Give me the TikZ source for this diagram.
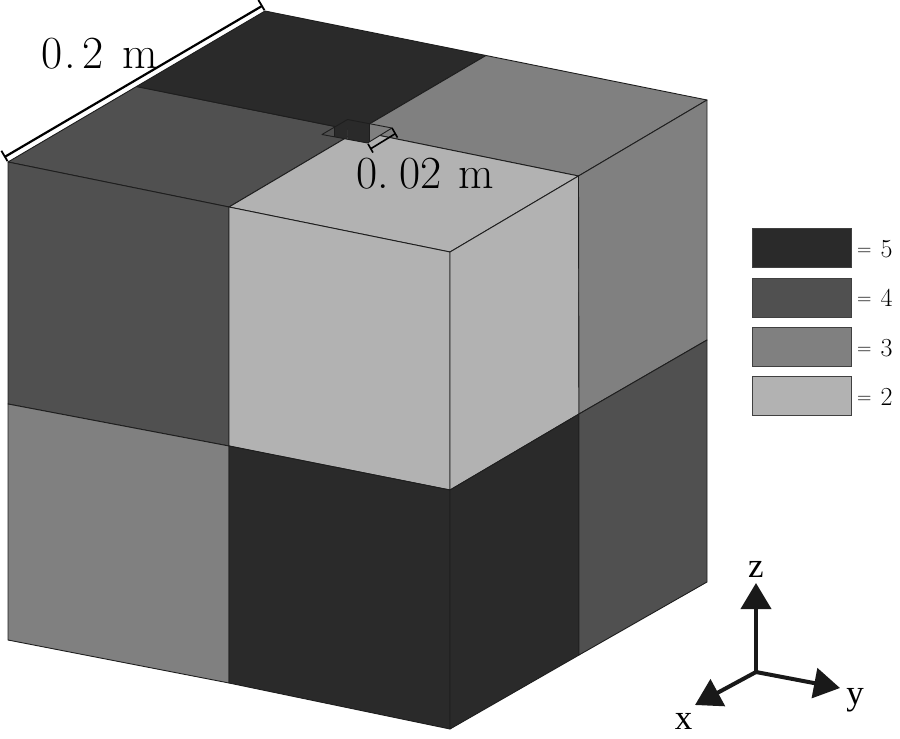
\documentclass[tikz,border=0pt]{standalone}
\usepackage{fontspec}
\newfontfamily\axfont{Liberation Serif}
\usetikzlibrary{arrows.meta,calc}
\definecolor{cfive}{HTML}{2A2A2A}
\definecolor{cfour}{HTML}{505050}
\definecolor{cthree}{HTML}{808080}
\definecolor{ctwo}{HTML}{B2B2B2}
\definecolor{edgecol}{HTML}{1E1E1E}
\newcommand{\legeq}[1]{\raisebox{2pt}{\fontsize{20}{24}\selectfont=}\kern9pt#1}
\begin{document}
\begin{tikzpicture}[x=1pt,y=-1pt,
  face/.style={draw=edgecol, line width=0.9pt, line join=round},
  holeline/.style={draw=edgecol, line width=0.9pt},
  dimline/.style={draw=black, line width=2pt},
  axisarrow/.style={draw=black!90, line width=4pt, -{Triangle[length=26pt,width=30pt]}},
  legbox/.style={draw=edgecol!85, line width=1pt, minimum width=99pt, minimum height=39pt, inner sep=0pt, outer sep=0pt},
  legtext/.style={font=\fontsize{26}{30}\selectfont, inner sep=0pt, anchor=base west},
  dimtext/.style={font=\fontsize{46}{52}\selectfont, inner sep=0pt, anchor=base west},
  axtext/.style={font=\axfont\fontsize{35}{40}\selectfont, inner sep=0pt}
]
\useasboundingbox (0,0) rectangle (900,739);
% ---------- top face ----------
\coordinate (TL) at (8,162);
\coordinate (TB) at (265,11);
\coordinate (TR) at (707,100);
\coordinate (TF) at (450,252);
\coordinate (TLB) at (136.5,86.5);
\coordinate (TBR) at (486,55.5);
\coordinate (TRF) at (578.5,176);
\coordinate (TFL) at (229,207);
\coordinate (C) at (357.5,131);
% ---------- left face ----------
\coordinate (L00) at (8,162);   \coordinate (L10) at (229,207);  \coordinate (L20) at (450,252);
\coordinate (L01) at (8,404);   \coordinate (L11) at (229,446);  \coordinate (L21) at (450,490);
\coordinate (L02) at (8,640);   \coordinate (L12) at (229,683);  \coordinate (L22) at (450,729);
% ---------- right face ----------
\coordinate (R00) at (450,252); \coordinate (R10) at (578.5,176); \coordinate (R20) at (707,100);
\coordinate (R01) at (450,490); \coordinate (R11) at (579,414);   \coordinate (R21) at (707,340);
\coordinate (R02) at (450,729); \coordinate (R12) at (579,655);   \coordinate (R22) at (707,582);

% top quadrants
\draw[face, fill=cfour]  (TL) -- (TLB) -- (C) -- (TFL) -- cycle;
\draw[face, fill=cfive]  (TLB) -- (TB) -- (TBR) -- (C) -- cycle;
\draw[face, fill=cthree] (TBR) -- (TR) -- (TRF) -- (C) -- cycle;
\draw[face, fill=ctwo]   (C) -- (TRF) -- (TF) -- (TFL) -- cycle;
% left face
\draw[face, fill=cfour]  (L00) -- (L10) -- (L11) -- (L01) -- cycle;
\draw[face, fill=ctwo]   (L10) -- (L20) -- (L21) -- (L11) -- cycle;
\draw[face, fill=cthree] (L01) -- (L11) -- (L12) -- (L02) -- cycle;
\draw[face, fill=cfive]  (L11) -- (L21) -- (L22) -- (L12) -- cycle;
% right face
\draw[face, fill=ctwo]   (R00) -- (R10) -- (R11) -- (R01) -- cycle;
\draw[face, fill=cthree] (R10) -- (R20) -- (R21) -- (R11) -- cycle;
\draw[face, fill=cfive]  (R01) -- (R11) -- (R12) -- (R02) -- cycle;
\draw[face, fill=cfour]  (R11) -- (R21) -- (R22) -- (R12) -- cycle;

% ---------- hole ----------
\coordinate (HL) at (322,134.5);
\coordinate (HB) at (347.5,119.5);
\coordinate (HR) at (392,128);
\coordinate (HF) at (367.5,143);
\coordinate (HM1) at ($(HL)!0.5!(HB)$);
\coordinate (HM2) at ($(HB)!0.5!(HR)$);
\begin{scope}
  \clip (HL) -- (HB) -- (HR) -- (HF) -- cycle;
  \fill[cfour]  (HL) -- (HM1) -- ++(0,50) -- ($(HL)+(0,50)$) -- cycle;
  \fill[cfive]  (HM1) -- (HB) -- ++(0,50) -- ($(HM1)+(0,50)$) -- cycle;
  \fill[cfive]  (HB) -- (HM2) -- ++(0,50) -- ($(HB)+(0,50)$) -- cycle;
  \fill[cthree] (HM2) -- (HR) -- ++(0,50) -- ($(HM2)+(0,50)$) -- cycle;
  \draw[holeline] (HM1) -- ++(0,50);
  \draw[holeline] (HM2) -- ++(0,50);
\end{scope}
\draw[holeline, line join=round] (HL) -- (HB) -- (HR) -- (HF) -- cycle;

% ---------- dimension 0.02 m ----------
\coordinate (dFa) at ($(HF)+(0.5,0.87)$);
\coordinate (dFb) at ($(HF)+(5.5,9.6)$);
\coordinate (dRa) at ($(HR)+(0,0)$);
\coordinate (dRb) at ($(HR)+(5.5,9.6)$);
\coordinate (dF) at ($(HF)+(3.3,5.7)$);
\coordinate (dR) at ($(HR)+(3.3,5.7)$);
\draw[dimline, line width=1.6pt] (dF) -- (dR);
\draw[dimline, line width=1.6pt] (dFa) -- (dFb);
\draw[dimline, line width=1.6pt] (dRa) -- (dRb);
\node[dimtext] (t002) at (356,188) {0.\kern11pt02\kern16.5pt m};

% ---------- dimension 0.2 m ----------
\coordinate (eL) at (4.9,156.8);
\coordinate (eB) at (262,6);
\coordinate (eLa) at (7.5,161.1);
\coordinate (eLb) at (1.4,150.8);
\coordinate (eBa) at (264.5,10.3);
\coordinate (eBb) at (258.4,0);
\draw[dimline, line width=2.2pt] (eL) -- (eB);
\draw[dimline, line width=1.8pt] (eLa) -- (eLb);
\draw[dimline, line width=1.8pt] (eBa) -- (eBb);
\node[dimtext] (t02) at (41,68) {0\kern2pt.\kern6.6pt2\kern19pt m};

% ---------- legend ----------
\node[legbox, fill=cfive]  (lb5) at (801.5,247.5) {};
\node[legbox, fill=cfour]  (lb4) at (801.5,297.5) {};
\node[legbox, fill=cthree] (lb3) at (801.5,346.5) {};
\node[legbox, fill=ctwo]   (lb2) at (801.5,396) {};
\node[legtext] (lt5) at (857,257) {\legeq{5}};
\node[legtext] (lt4) at (857,306.5) {\legeq{4}};
\node[legtext] (lt3) at (857,356) {\legeq{3}};
\node[legtext] (lt2) at (857,405) {\legeq{2}};

% ---------- axes ----------
\coordinate (O) at (756,672);
\coordinate (zt) at (756,583);
\coordinate (yt) at (840,688);
\coordinate (xt) at (695,705);
\draw[axisarrow] (O) -- (zt);
\draw[axisarrow] (O) -- (yt);
\draw[axisarrow] (O) -- (xt);
\draw[black!90, line width=4pt, line cap=round] (O) -- ++(0,0.1);
\node[axtext] (lz) at (756,569.5) {z};
\node[axtext] (ly) at (855,700) {y};
\node[axtext] (lx) at (683.5,721.5) {x};
\end{tikzpicture}
\end{document}
